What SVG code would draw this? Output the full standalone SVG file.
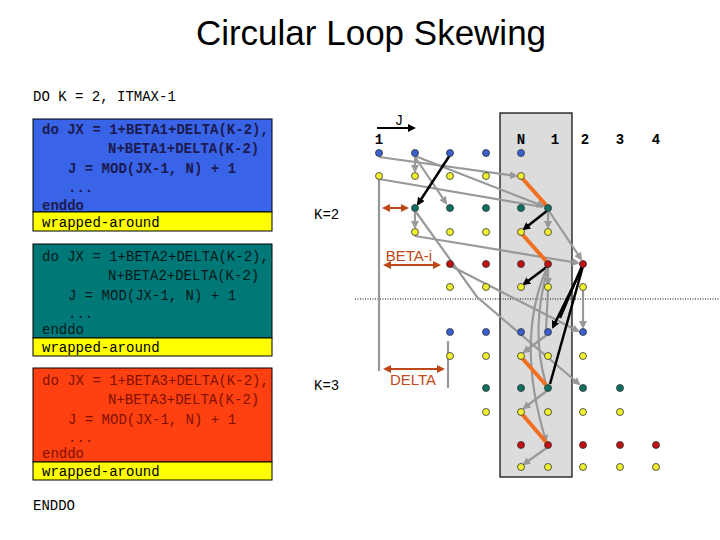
<svg xmlns="http://www.w3.org/2000/svg" width="720" height="540" viewBox="0 0 720 540">
<style>
.m{font-family:"Liberation Mono",monospace;font-size:14px}
.b{font-weight:bold}
.g{stroke:#999;stroke-width:2.2;fill:none}
.k{stroke:#000;stroke-width:2.5;fill:none}
.o{stroke:#f07020;stroke-width:4;fill:none}
.a{stroke:#c04818;stroke-width:2;fill:none}
.d{stroke:#333;stroke-width:0.8}
.db{fill:#3a5fd0}.dy{fill:#f0f030}.dt{fill:#107060}.dr{fill:#c01010}
</style>
<defs>
<marker id="mg" markerWidth="8" markerHeight="8" refX="6" refY="4" orient="auto" markerUnits="userSpaceOnUse"><path d="M0,0L8,4L0,8z" fill="#999"/></marker>
<marker id="mk" markerWidth="8" markerHeight="8" refX="6" refY="4" orient="auto" markerUnits="userSpaceOnUse"><path d="M0,0L8,4L0,8z" fill="#000"/></marker>
<marker id="ma" markerWidth="8" markerHeight="8" refX="6" refY="4" orient="auto-start-reverse" markerUnits="userSpaceOnUse"><path d="M0,0L8,4L0,8z" fill="#c04818"/></marker>
</defs>
<rect width="720" height="540" fill="#fff"/>
<text x="371" y="45" text-anchor="middle" font-family="Liberation Sans,sans-serif" font-size="35">Circular Loop Skewing</text>
<text class="m" x="33" y="101">DO K = 2, ITMAX-1</text>
<text class="m" x="33" y="510">ENDDO</text>
<g id="box1">
<rect x="33" y="119" width="239" height="93" fill="#3a64e8" stroke="#000"/>
<rect x="33" y="212" width="239" height="19" fill="#ffff00" stroke="#000"/>
<g class="m b" fill="#1a1a50"><text x="42" y="134">do JX = 1+BETA1+DELTA(K-2),</text><text x="108" y="153">N+BETA1+DELTA(K-2)</text><text x="68" y="173">J = MOD(JX-1, N) + 1</text><text x="68" y="192">...</text><text x="42" y="210">enddo</text></g>
<text class="m" x="42" y="227">wrapped-around</text>
</g>
<g id="box2">
<rect x="33" y="244" width="239" height="94" fill="#007878" stroke="#000"/>
<rect x="33" y="338" width="239" height="18" fill="#ffff00" stroke="#000"/>
<g class="m" fill="#001818"><text x="42" y="261">do JX = 1+BETA2+DELTA(K-2),</text><text x="108" y="280">N+BETA2+DELTA(K-2)</text><text x="68" y="300">J = MOD(JX-1, N) + 1</text><text x="68" y="318">...</text><text x="42" y="334">enddo</text></g>
<text class="m" x="42" y="352">wrapped-around</text>
</g>
<g id="box3">
<rect x="33" y="368" width="239" height="94" fill="#ff4010" stroke="#000"/>
<rect x="33" y="462" width="239" height="18" fill="#ffff00" stroke="#000"/>
<g class="m" fill="#801000"><text x="42" y="385">do JX = 1+BETA3+DELTA(K-2),</text><text x="108" y="404">N+BETA3+DELTA(K-2)</text><text x="68" y="424">J = MOD(JX-1, N) + 1</text><text x="68" y="442">...</text><text x="42" y="458">enddo</text></g>
<text class="m" x="42" y="476">wrapped-around</text>
</g>
<rect x="500" y="113" width="72" height="364" fill="#dcdcdc" stroke="#000" stroke-width="1.2"/>
<line x1="355" y1="299" x2="720" y2="299" stroke="#000" stroke-dasharray="1,1.5"/>
<g id="labels" class="m">
<text x="399" y="125" text-anchor="middle">J</text>
<line x1="377" y1="128" x2="414" y2="128" stroke="#000" stroke-width="2" marker-end="url(#mk)"/>
<g class="b"><text x="379" y="144" text-anchor="middle">1</text><text x="521" y="144" text-anchor="middle">N</text><text x="555" y="144" text-anchor="middle">1</text><text x="585" y="144" text-anchor="middle">2</text><text x="620" y="144" text-anchor="middle">3</text><text x="656" y="144" text-anchor="middle">4</text></g>
<text x="314" y="219">K=2</text>
<text x="314" y="390">K=3</text>
<text x="409" y="261" text-anchor="middle" font-family="Liberation Sans,sans-serif" font-size="15" fill="#c04818">BETA-i</text>
<text x="413" y="385" text-anchor="middle" font-family="Liberation Sans,sans-serif" font-size="15" fill="#c04818">DELTA</text>
</g>
<g id="connectors">
<line class="a" x1="384" y1="208" x2="407" y2="208" marker-start="url(#ma)" marker-end="url(#ma)"/>
<line class="a" x1="385" y1="265" x2="439" y2="265" marker-start="url(#ma)" marker-end="url(#ma)"/>
<line class="a" x1="385" y1="369" x2="443" y2="369" marker-start="url(#ma)" marker-end="url(#ma)"/>
<line class="g" x1="379" y1="176" x2="379" y2="371"/>
<line class="g" x1="448" y1="341" x2="448" y2="388"/>
<line class="g" x1="379" y1="157" x2="516" y2="176" marker-end="url(#mg)"/>
<line class="g" x1="415" y1="156" x2="543" y2="206" marker-end="url(#mg)"/>
<line class="g" x1="379" y1="179" x2="543" y2="207"/>
<line class="g" x1="415" y1="157" x2="415" y2="171" marker-end="url(#mg)"/>
<line class="g" x1="415" y1="157" x2="446" y2="203" marker-end="url(#mg)"/>
<line class="k" x1="450" y1="155" x2="418" y2="204" marker-end="url(#mk)"/>
<line class="o" x1="522" y1="178" x2="546" y2="205"/>
<line class="k" x1="548" y1="210" x2="524" y2="229" marker-end="url(#mk)"/>
<line class="g" x1="548" y1="211" x2="548" y2="227" marker-end="url(#mg)"/>
<line class="g" x1="549" y1="211" x2="581" y2="259" marker-end="url(#mg)"/>
<line class="g" x1="415" y1="212" x2="415" y2="227" marker-end="url(#mg)"/>
<polyline class="g" points="416,212 477,297 579,384" marker-end="url(#mg)"/>
<line class="g" x1="415" y1="236" x2="578" y2="263" marker-end="url(#mg)"/>
<line class="o" x1="522" y1="234" x2="546" y2="261"/>
<line class="k" x1="548" y1="266" x2="524" y2="284" marker-end="url(#mk)"/>
<line class="g" x1="451" y1="266" x2="578" y2="331" marker-end="url(#mg)"/>
<path class="g" d="M547,268 Q515,340 546,441" marker-end="url(#mg)"/>
<path class="g" d="M548,268 Q530,330 546,384"/>
<line class="g" x1="548" y1="268" x2="548" y2="284" marker-end="url(#mg)"/>
<line class="g" x1="548" y1="290" x2="546" y2="330"/>
<line class="k" x1="583" y1="266" x2="553" y2="327" marker-end="url(#mk)"/>
<line class="k" x1="583" y1="266" x2="550" y2="384"/>
<line class="k" x1="582" y1="266" x2="560" y2="318"/>
<line class="g" x1="583" y1="291" x2="583" y2="327" marker-end="url(#mg)"/>
<line class="g" x1="548" y1="334" x2="524" y2="352" marker-end="url(#mg)"/>
<line class="o" x1="522" y1="358" x2="546" y2="385"/>
<line class="g" x1="548" y1="390" x2="524" y2="408" marker-end="url(#mg)"/>
<line class="o" x1="522" y1="414" x2="546" y2="442"/>
<line class="g" x1="548" y1="447" x2="524" y2="464" marker-end="url(#mg)"/>
</g>
<g id="dots" class="d">
<circle class="db" cx="379" cy="153" r="3.5"/><circle class="db" cx="415" cy="153" r="3.5"/><circle class="db" cx="450" cy="153" r="3.5"/><circle class="db" cx="486" cy="153" r="3.5"/><circle class="db" cx="521" cy="153" r="3.5"/>
<circle class="dy" cx="379" cy="176" r="3.5"/><circle class="dy" cx="415" cy="176" r="3.5"/><circle class="dy" cx="450" cy="176" r="3.5"/><circle class="dy" cx="486" cy="176" r="3.5"/><circle class="dy" cx="521" cy="176" r="3.5"/>
<circle class="dt" cx="415" cy="208" r="3.5"/><circle class="dt" cx="450" cy="208" r="3.5"/><circle class="dt" cx="486" cy="208" r="3.5"/><circle class="dt" cx="521" cy="208" r="3.5"/><circle class="dt" cx="548" cy="208" r="3.5"/>
<circle class="dy" cx="415" cy="232" r="3.5"/><circle class="dy" cx="450" cy="232" r="3.5"/><circle class="dy" cx="486" cy="232" r="3.5"/><circle class="dy" cx="521" cy="232" r="3.5"/><circle class="dy" cx="548" cy="232" r="3.5"/>
<circle class="dr" cx="450" cy="264" r="3.5"/><circle class="dr" cx="486" cy="264" r="3.5"/><circle class="dr" cx="521" cy="264" r="3.5"/><circle class="dr" cx="548" cy="264" r="3.5"/><circle class="dr" cx="583" cy="264" r="3.5"/>
<circle class="dy" cx="450" cy="287" r="3.5"/><circle class="dy" cx="486" cy="287" r="3.5"/><circle class="dy" cx="521" cy="287" r="3.5"/><circle class="dy" cx="548" cy="287" r="3.5"/><circle class="dy" cx="583" cy="287" r="3.5"/>
<circle class="db" cx="450" cy="332" r="3.5"/><circle class="db" cx="486" cy="332" r="3.5"/><circle class="db" cx="521" cy="332" r="3.5"/><circle class="db" cx="548" cy="332" r="3.5"/><circle class="db" cx="583" cy="332" r="3.5"/>
<circle class="dy" cx="450" cy="356" r="3.5"/><circle class="dy" cx="486" cy="356" r="3.5"/><circle class="dy" cx="521" cy="356" r="3.5"/><circle class="dy" cx="548" cy="356" r="3.5"/><circle class="dy" cx="583" cy="356" r="3.5"/>
<circle class="dt" cx="486" cy="388" r="3.5"/><circle class="dt" cx="521" cy="388" r="3.5"/><circle class="dt" cx="548" cy="388" r="3.5"/><circle class="dt" cx="583" cy="388" r="3.5"/><circle class="dt" cx="620" cy="388" r="3.5"/>
<circle class="dy" cx="486" cy="412" r="3.5"/><circle class="dy" cx="521" cy="412" r="3.5"/><circle class="dy" cx="548" cy="412" r="3.5"/><circle class="dy" cx="583" cy="412" r="3.5"/><circle class="dy" cx="620" cy="412" r="3.5"/>
<circle class="dr" cx="521" cy="445" r="3.5"/><circle class="dr" cx="548" cy="445" r="3.5"/><circle class="dr" cx="583" cy="445" r="3.5"/><circle class="dr" cx="620" cy="445" r="3.5"/><circle class="dr" cx="656" cy="445" r="3.5"/>
<circle class="dy" cx="521" cy="467" r="3.5"/><circle class="dy" cx="548" cy="467" r="3.5"/><circle class="dy" cx="583" cy="467" r="3.5"/><circle class="dy" cx="620" cy="467" r="3.5"/><circle class="dy" cx="656" cy="467" r="3.5"/>
</g>
</svg>
